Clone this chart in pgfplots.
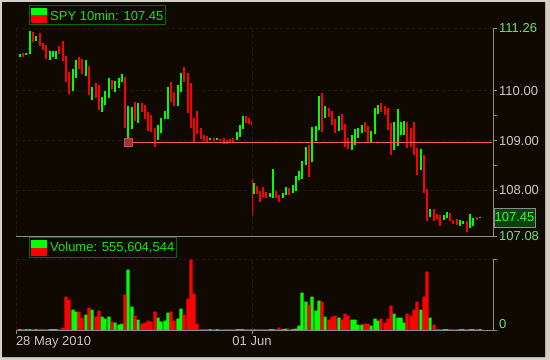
\documentclass[border=0pt]{standalone}
\usepackage{pgfplots}
\pgfplotsset{compat=1.18}
\usepackage{pgfplotstable}
\usepackage{fontspec}
\setmainfont{Liberation Sans}
\definecolor{bg}{RGB}{16,9,2}
\definecolor{framec}{RGB}{212,208,200}
\definecolor{pgreen}{RGB}{0,255,0}
\definecolor{pred}{RGB}{255,0,0}
\definecolor{gridc}{RGB}{32,29,14}
\definecolor{axgray}{RGB}{140,140,140}
\definecolor{labgray}{RGB}{200,200,200}
\definecolor{labgreen}{RGB}{110,225,110}
\definecolor{legtext}{RGB}{20,230,20}
\definecolor{legframe}{RGB}{0,110,0}
\definecolor{hline}{RGB}{255,90,90}
\definecolor{sqfill}{RGB}{160,52,52}
\definecolor{sqdraw}{RGB}{200,80,80}
\definecolor{boxfill}{RGB}{12,64,12}

% x = bar position, lo/hi = price range, vol = relative volume
\pgfplotstableread{
x lo hi vol
20 110.68 110.74 0.8
26 110.72 110.76 0.8
30 110.74 111.20 0.8
36 111.00 111.10 0.8
50 110.62 110.80 0.8
53 110.68 110.80 0.8
56 110.64 110.80 0.8
73 109.99 110.44 20.3
76 110.26 110.62 18.3
86 110.30 110.62 15.3
92 109.81 110.07 20.3
102 109.57 109.87 13.3
105 109.71 109.99 11.3
109 109.85 110.26 13.3
115 109.97 110.20 7.3
119 110.05 110.26 5.3
122 110.18 110.34 6.3
128 109.03 109.69 60.3
132 109.23 109.67 23.3
138 109.35 109.75 10.3
158 109.01 109.31 12.3
161 109.15 109.45 8.3
165 109.43 109.59 9.3
168 109.43 110.07 17.3
178 109.69 110.12 11.3
181 109.97 110.36 21.3
210 109.01 109.05 0.8
217 109.01 109.05 0.8
237 109.01 109.17 0.8
240 109.07 109.31 0.8
243 109.23 109.49 0.8
254 107.92 108.14 0.8
270 107.86 107.94 0.8
273 107.84 108.43 0.8
283 107.84 107.94 0.8
286 107.90 108.06 1.3
293 107.94 108.10 0.8
296 107.98 108.29 1.3
299 108.20 108.39 4.3
302 108.23 108.59 37.3
306 108.51 108.87 28.3
312 108.57 109.27 33.3
316 108.99 109.29 19.3
319 109.21 109.89 29.3
325 109.45 109.69 13.3
339 109.19 109.49 12.3
352 108.81 109.11 10.3
355 108.91 109.23 10.3
358 109.05 109.25 5.3
362 109.15 109.31 5.3
371 108.97 109.19 4.3
375 109.13 109.65 11.3
378 109.53 109.71 9.3
394 108.81 109.37 16.3
398 108.89 109.63 12.3
401 109.11 109.37 12.3
404 109.11 109.39 7.3
421 108.41 108.83 20.3
430 107.46 107.62 12.3
444 107.40 107.50 0.8
447 107.44 107.56 0.8
460 107.28 107.40 0.8
463 107.32 107.38 0.8
470 107.24 107.52 0.8
473 107.28 107.44 0.8
480 107.44 107.46 0.8
}\greenbars

\pgfplotstableread{
x lo hi vol
23 110.68 110.76 0.8
33 110.98 111.18 0.8
40 110.90 111.16 0.8
43 110.82 110.96 0.8
46 110.64 110.92 0.8
59 110.74 110.90 0.8
63 110.60 111.00 2.3
66 110.18 110.70 33.3
69 109.93 110.37 30.3
79 110.44 110.68 18.3
82 110.33 110.64 12.3
89 109.91 110.50 22.3
96 109.85 110.16 13.3
99 109.61 110.12 19.3
112 110.03 110.22 8.3
125 109.25 110.28 35.3
135 109.39 109.77 14.3
142 109.57 109.75 6.3
145 109.43 109.71 7.3
148 109.19 109.57 9.3
151 109.17 109.51 8.3
155 108.87 109.25 18.3
171 109.77 110.18 18.3
174 109.69 109.97 9.3
184 110.18 110.48 15.3
188 109.55 110.36 31.3
191 109.25 110.16 70.5
194 108.97 109.45 36.3
197 109.13 109.59 6.3
201 109.03 109.25 1.0
204 108.99 109.11 0.8
207 108.97 109.09 0.8
214 108.99 109.05 0.8
220 108.99 109.03 0.8
224 108.93 109.05 0.8
227 108.93 109.01 0.8
230 108.97 109.03 0.8
233 108.97 109.05 0.8
246 109.35 109.49 0.8
249 109.33 109.45 0.8
251.3 109.31 109.39 0.8
252.6 107.50 108.23 0.8
257 107.92 108.08 0.8
260 107.76 107.98 0.8
263 107.86 108.06 0.8
266 107.84 107.96 0.8
276 107.84 107.98 0.8
279 107.76 107.90 2.3
289 107.90 108.04 1.3
309 108.27 108.91 25.3
322 109.17 109.95 28.3
329 109.47 109.65 10.3
332 109.31 109.59 13.3
335 109.15 109.43 14.3
342 109.21 109.53 10.3
345 108.87 109.33 16.3
348 108.83 109.05 14.3
365 109.17 109.37 6.3
368 108.97 109.29 6.3
381 109.57 109.75 11.3
385 109.51 109.69 7.3
388 109.21 109.65 11.3
391 108.71 109.35 24.3
407 108.85 109.37 16.3
411 108.87 109.25 14.3
414 108.71 109.37 20.3
417 108.31 108.85 28.3
424 107.94 108.71 33.3
427 107.38 108.02 58.3
434 107.38 107.62 5.3
437 107.42 107.52 0.8
440 107.28 107.50 0.8
450 107.38 107.54 0.8
453 107.32 107.40 0.8
457 107.30 107.42 0.8
467 107.16 107.38 0.8
477 107.40 107.46 0.8
}\redbars

\begin{document}
\begin{tikzpicture}
\fill[framec] (0bp,0bp) rectangle (550bp,360bp);
\fill[bg] (2bp,3bp) rectangle (545bp,358bp);
\draw[axgray!70, line width=0.8bp] (545.4bp,2.6bp) -- (545.4bp,358bp);
\draw[axgray!70, line width=0.8bp] (2bp,2.6bp) -- (545.4bp,2.6bp);

% ---------------- price panel ----------------
\begin{axis}[
  at={(16bp,124bp)}, anchor=south west,
  scale only axis, width=477bp, height=208bp,
  xmin=16, xmax=493, ymin=107.08, ymax=111.26,
  axis x line*=bottom, axis y line*=right,
  axis line style={draw=axgray, line width=0.9bp},
  xtick=\empty,
  ytick={107.08,108,109,110,111.26},
  yticklabels={\textcolor{labgreen}{107.08},108.00,109.00,110.00,\textcolor{labgreen}{111.26}},
  extra y ticks={108.5,109.5}, extra y tick labels={},
  tick align=outside, major tick length=4bp,
  tick style={draw=axgray, line width=0.9bp},
  yticklabel style={text=labgray, font=\fontsize{13bp}{15bp}\selectfont, anchor=west, inner sep=0pt, xshift=2bp},
  clip=false,
]
\draw[gridc, line width=0.8bp, dash pattern=on 3bp off 3bp] (axis cs:16,111.26) -- (axis cs:493,111.26);
\draw[gridc, line width=0.8bp, dash pattern=on 3bp off 3bp] (axis cs:16,110) -- (axis cs:493,110);
\draw[gridc, line width=0.8bp, dash pattern=on 3bp off 3bp] (axis cs:16,109) -- (axis cs:493,109);
\draw[gridc, line width=0.8bp, dash pattern=on 3bp off 3bp] (axis cs:16,108) -- (axis cs:493,108);
\draw[gridc, line width=0.8bp, dash pattern=on 3bp off 3bp] (axis cs:16,107.08) -- (axis cs:16,111.26);
\draw[gridc, line width=0.8bp, dash pattern=on 3bp off 3bp] (axis cs:252,107.08) -- (axis cs:252,111.26);

\addplot[draw=none, mark=none, forget plot,
  error bars/.cd, y dir=plus, y explicit, error mark=none,
  error bar style={draw=pgreen, solid, line width=1.1bp}]
  table[x=x, y=lo, y error expr=\thisrow{hi}-\thisrow{lo}] {\greenbars};
\addplot[draw=none, mark=none, forget plot,
  error bars/.cd, y dir=plus, y explicit, error mark=none,
  error bar style={draw=pred, solid, line width=1.1bp}]
  table[x=x, y=lo, y error expr=\thisrow{hi}-\thisrow{lo}] {\redbars};

\addplot[hline, line width=1bp, mark=square*, mark indices={1}, mark size=4bp,
  mark options={fill=sqfill, draw=sqdraw, line width=0.8bp}]
  coordinates {(128,108.96) (492,108.96)};
\draw[hline, line width=1bp] (axis cs:492,108.96) ++(0,-4bp) -- ++(0,8bp);
\end{axis}

% ---------------- volume panel ----------------
\begin{axis}[
  at={(16bp,30bp)}, anchor=south west,
  scale only axis, width=477bp, height=71bp,
  xmin=16, xmax=493, ymin=0, ymax=71,
  axis x line*=bottom, axis y line*=right,
  axis line style={draw=axgray, line width=0.9bp},
  xtick={16,252},
  xticklabels={\makebox[0pt][l]{28 May 2010},01 Jun},
  ytick={0,71}, yticklabels={\textcolor{labgreen}{0},{}},
  tick align=outside, major tick length=4bp,
  tick style={draw=axgray, line width=0.9bp},
  yticklabel style={font=\fontsize{13bp}{15bp}\selectfont, anchor=south west, inner sep=0pt, xshift=2bp, yshift=1bp},
  xticklabel style={text=labgray, font=\fontsize{13bp}{15bp}\selectfont, anchor=north, inner sep=0pt, yshift=-2bp},
  clip=false,
]
\draw[gridc, line width=0.8bp, dash pattern=on 3bp off 3bp] (axis cs:16,71) -- (axis cs:493,71);
\draw[gridc, line width=0.8bp, dash pattern=on 3bp off 3bp] (axis cs:16,0) -- (axis cs:16,71);
\draw[gridc, line width=0.8bp, dash pattern=on 3bp off 3bp] (axis cs:252,0) -- (axis cs:252,71);
\addplot[ybar, bar width=3.2bp, bar shift=0pt, fill=pgreen, draw=none, forget plot]
  table[x=x, y=vol] {\greenbars};
\addplot[ybar, bar width=3.2bp, bar shift=0pt, fill=pred, draw=none, forget plot]
  table[x=x, y=vol] {\redbars};
\end{axis}

% ---------------- legends and last price box ----------------
\draw[legframe, line width=1bp, fill=bg] (29bp,335bp) rectangle (165bp,354bp);
\fill[pgreen] (31bp,344.5bp) rectangle (47bp,352bp);
\fill[pred] (31bp,336.5bp) rectangle (47bp,344.5bp);
\node[anchor=west, inner sep=0pt, text=legtext, font=\fontsize{13bp}{15bp}\selectfont] at (50bp,344.5bp) {SPY 10min: 107.45};

\draw[legframe, line width=1bp, fill=bg] (29bp,102bp) rectangle (176bp,122bp);
\fill[pgreen] (31bp,112bp) rectangle (47bp,120bp);
\fill[pred] (31bp,104bp) rectangle (47bp,112bp);
\node[anchor=west, inner sep=0pt, text=legtext, font=\fontsize{13bp}{15bp}\selectfont] at (50bp,112bp) {Volume: 555,604,544};

\draw[axgray, line width=0.9bp, fill=boxfill] (494bp,133bp) rectangle (535bp,152bp);
\node[inner sep=0pt, text=pgreen!80!white, font=\fontsize{13bp}{15bp}\selectfont] at (514.5bp,142.5bp) {107.45};

\pgfresetboundingbox
\useasboundingbox (0bp,0bp) rectangle (550bp,360bp);
\end{tikzpicture}
\end{document}
